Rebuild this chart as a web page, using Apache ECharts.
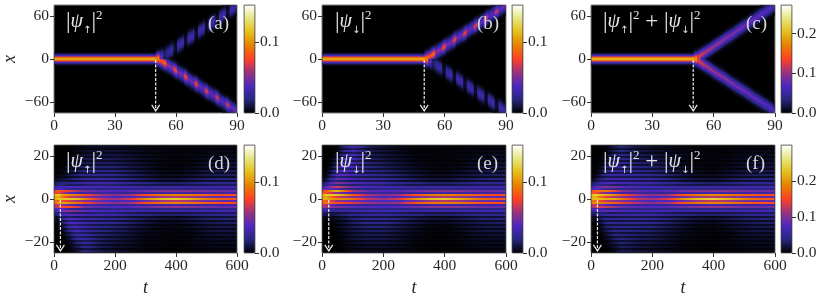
<!DOCTYPE html>
<html><head><meta charset="utf-8">
<style>html,body{margin:0;padding:0;background:#fff}#c{width:822px;height:298px}</style>
<script src="https://cdn.jsdelivr.net/npm/echarts@6/dist/echarts.min.js"></script>
</head><body><div id="c"></div>
<script>
// ---- tick labels ----
const topXTicks=[0,30,60,90], topYTicks=[-60,0,60], botXTicks=[0,200,400,600], botYTicks=[-20,0,20];
const panelLabels=['(a)','(b)','(c)','(d)','(e)','(f)'];
// colour-bar ranges
const vmaxes=[0.153,0.153,0.272,0.153,0.153,0.30];
const cbTicks=[[0,0.1],[0,0.1],[0,0.1,0.2],[0,0.1],[0,0.1],[0,0.1,0.2]];
// arrows: t, x of head
const arrowT=[50,50,50,21,22,21];
const arrowEnd=[-72,-72,-72,-24,-24,-24];
// ---- top row values (per mille) ----
const beamX=[10,8,6,4,2,0,-2,-4,-6,-8,-10];
const beamA=[0,6,22,50,90,115,90,50,22,6,0];
const beamB=[0,6,22,50,90,115,90,50,22,6,0];
const beamC=[0,12,40,90,165,212,165,90,40,12,0];
const beamEnd=50.3;
const armStart=[50.3,52.1,53.8,55.5,57.2,59,60.7,62.4,64.1,65.8,67.5,69.3,71,72.7,74.4,76.1,77.9,79.6,81.3,83,84.7,86.5,88.2,90];
// each row: centre x, then values at centre-10,-5,0,+5,+10
const upA=[[1,50,90,95,45,8],[4,30,40,45,25,6],[7,6,14,18,12,3],[10,8,20,26,16,4],[13,8,22,30,18,5],[17,2,5,7,4,1],[20,8,24,32,20,5],[23,8,24,34,20,5],[27,2,5,7,4,1],[30,8,24,34,20,5],[33,8,24,34,20,5],[36,2,5,7,4,1],[40,8,24,34,20,5],[43,8,24,34,20,5],[46,2,5,7,4,1],[50,8,24,34,20,5],[53,8,24,34,20,5],[56,2,5,7,4,1],[60,8,24,34,20,5],[63,8,24,34,20,5],[66,2,5,7,4,1],[69,8,24,34,20,5],[73,8,22,30,18,5]];
const downA=[[-1,8,45,95,90,50],[-3,12,50,85,50,10],[-6,14,52,90,52,12],[-9,10,35,55,34,8],[-12,10,35,55,34,8],[-16,14,48,80,46,12],[-19,9,32,50,30,8],[-22,9,32,50,30,8],[-25,14,47,78,45,12],[-29,9,30,48,29,7],[-32,9,30,48,29,7],[-35,13,46,76,44,11],[-38,9,29,46,28,7],[-42,9,29,46,28,7],[-45,13,44,74,42,11],[-48,8,28,44,27,7],[-51,8,28,44,27,7],[-54,12,42,70,40,10],[-58,8,27,42,26,6],[-61,8,27,42,26,6],[-64,12,40,68,38,10],[-67,8,27,42,26,6],[-71,9,30,50,28,6]];
const upB=[[1,50,90,95,45,8],[4,12,48,85,50,12],[7,12,52,92,54,14],[10,8,34,55,35,10],[13,8,34,55,35,10],[17,12,46,80,48,14],[20,8,30,50,32,9],[23,8,30,50,32,9],[27,12,45,78,47,14],[30,7,29,48,30,9],[33,7,29,48,30,9],[36,11,44,76,46,13],[40,7,28,46,29,9],[43,7,28,46,29,9],[46,11,42,74,44,13],[50,7,27,44,28,8],[53,7,27,44,28,8],[56,10,40,70,42,12],[60,6,26,42,27,8],[63,6,26,42,27,8],[66,10,38,68,40,12],[69,6,26,42,27,8],[73,6,28,50,30,9]];
const downB=[[-1,8,45,95,90,50],[-4,6,25,45,40,30],[-7,3,12,18,14,6],[-10,5,18,28,20,8],[-13,5,18,30,22,8],[-17,1,4,7,5,2],[-20,5,20,32,24,8],[-23,5,20,34,24,8],[-26,1,4,7,5,2],[-29,5,20,34,24,8],[-32,5,20,34,24,8],[-36,1,4,7,5,2],[-39,5,20,34,24,8],[-42,5,20,34,24,8],[-45,1,4,7,5,2],[-49,5,20,34,24,8],[-52,5,20,34,24,8],[-55,1,4,7,5,2],[-58,5,20,34,24,8],[-62,5,20,34,24,8],[-65,1,4,7,5,2],[-68,5,20,34,24,8],[-72,5,18,30,22,8]];
const upC=[[1,80,150,180,70,12],[4,40,110,130,70,14],[7,14,70,125,70,14],[10,14,65,115,65,14],[13,13,62,110,62,13],[17,13,60,106,60,13],[20,13,58,103,58,13],[23,12,57,101,57,12],[27,12,56,99,56,12],[30,12,55,97,55,12],[33,12,54,95,54,12],[36,12,53,93,53,12],[40,11,52,91,52,11],[43,11,51,89,51,11],[46,11,50,87,50,11],[50,11,49,85,49,11],[53,10,48,83,48,10],[56,10,47,81,47,10],[60,10,46,79,46,10],[63,10,45,77,45,10],[66,9,44,75,44,9],[69,9,43,73,43,9],[73,9,42,71,42,9]];
const downC=[[-1,12,70,180,150,80],[-4,14,70,130,110,40],[-7,14,70,125,70,14],[-10,14,65,115,65,14],[-13,13,62,110,62,13],[-17,13,60,106,60,13],[-20,13,58,103,58,13],[-23,12,57,101,57,12],[-26,12,56,99,56,12],[-29,12,55,97,55,12],[-33,12,54,95,54,12],[-36,12,53,93,53,12],[-39,11,52,91,52,11],[-42,11,51,89,51,11],[-45,11,50,87,50,11],[-48,11,49,85,49,11],[-52,10,48,83,48,10],[-55,10,47,81,47,10],[-58,10,46,79,46,10],[-61,10,45,77,45,10],[-64,9,44,75,44,9],[-67,9,43,73,43,9],[-71,9,42,71,42,9]];
// ---- bottom row values (per mille): one row per 0.926 of x, top to bottom ----
const timeNodes=[0,15,30,50,75,100,150,200,250,300,350,400,450,500,550,600];
const stripeStep=0.926;
const rowsD=[
[0,0,0,0,1,2,2,2,2,1,1,1,1,1,1,1],[0,0,0,0,2,4,5,5,4,3,2,2,2,3,3,3],[0,0,0,0,1,2,3,3,2,2,1,1,1,1,1,1],[0,0,0,1,3,6,8,8,6,4,3,2,2,3,4,4],
[0,0,0,0,2,3,4,4,3,2,1,1,1,2,2,2],[0,0,0,2,5,8,10,10,7,5,3,2,3,4,5,5],[0,0,0,1,2,4,5,5,4,2,1,1,1,2,2,2],[0,0,0,3,7,11,13,12,9,5,3,2,3,5,6,6],
[0,0,1,1,3,5,6,6,4,2,1,1,1,2,3,3],[0,0,1,4,9,13,15,14,10,6,3,2,3,6,8,8],[0,0,1,2,4,6,7,7,5,3,1,1,1,3,3,4],[0,0,2,6,12,16,18,17,12,7,3,2,4,8,10,10],
[0,1,2,3,5,7,9,8,5,3,1,1,2,3,4,4],[0,2,3,8,14,19,21,20,14,8,4,3,6,10,12,12],[0,1,2,4,6,9,10,9,6,3,2,1,2,4,5,5],[1,3,5,10,17,22,24,22,16,10,6,5,8,12,14,15],
[1,2,4,5,8,10,11,10,7,4,2,2,3,5,6,6],[3,6,8,14,20,25,27,25,19,13,10,9,12,16,18,18],[5,8,10,8,9,11,12,11,8,6,4,3,5,7,8,8],[12,18,18,22,26,30,32,30,24,20,17,16,18,22,24,24],
[14,18,18,13,13,15,17,16,13,11,10,10,11,12,13,13],[30,35,35,38,38,38,36,34,32,30,30,30,30,32,34,34],[34,36,32,24,20,20,20,20,20,20,20,20,20,20,20,20],[70,85,75,72,62,48,42,38,40,46,52,54,52,48,46,46],
[75,75,60,42,34,30,28,26,26,28,30,32,30,30,30,30],[110,120,105,100,92,80,60,52,58,80,92,96,92,85,80,80],[105,110,90,68,60,52,42,36,38,46,56,62,56,48,44,42],[105,118,118,118,115,100,65,58,70,100,115,120,110,95,86,82],
[90,90,80,68,60,52,42,36,38,46,58,64,58,48,44,42],[85,105,105,100,92,80,60,52,58,80,92,96,92,85,80,80],[64,64,55,42,34,30,28,26,26,28,30,32,30,30,30,30],[55,70,78,80,70,50,42,38,40,46,52,54,52,48,46,46],
[36,40,38,28,22,20,20,20,20,20,20,20,20,20,20,20],[25,38,50,55,50,42,36,34,32,30,30,30,30,32,34,34],[15,20,24,18,15,15,17,16,13,11,10,10,11,12,13,13],[10,20,35,42,40,34,32,30,24,20,17,16,18,22,24,24],
[4,8,14,14,12,12,12,11,8,6,4,3,5,7,8,8],[2,8,25,40,38,32,28,25,19,13,10,9,12,16,18,18],[1,3,10,16,14,12,11,10,7,4,2,2,3,5,6,6],[0,3,16,38,38,30,25,22,16,10,6,5,8,12,14,15],
[0,1,6,16,16,13,10,9,6,3,2,1,2,4,5,5],[0,1,9,30,38,30,22,18,13,7,4,3,6,10,12,12],[0,0,4,14,16,13,9,8,5,3,1,1,2,3,4,4],[0,0,5,22,36,30,20,15,10,5,3,2,4,8,10,10],
[0,0,2,10,16,13,8,7,5,2,1,1,1,3,3,4],[0,0,2,14,32,30,18,13,8,4,2,2,3,6,8,8],[0,0,1,6,14,13,7,6,4,2,1,1,1,2,3,3],[0,0,1,8,26,30,16,11,7,3,2,1,3,5,6,6],
[0,0,0,3,11,13,7,5,3,1,1,1,1,2,2,2],[0,0,0,4,18,28,15,10,6,3,2,1,2,4,5,5],[0,0,0,2,8,12,6,4,3,1,1,0,1,2,2,2],[0,0,0,2,12,24,13,8,5,2,1,1,2,3,4,4],
[0,0,0,1,5,10,5,3,2,1,0,0,1,1,1,1],[0,0,0,1,7,20,11,7,4,2,1,1,1,2,3,3],[0,0,0,0,3,8,4,2,1,1,0,0,0,1,1,1]];
const rowsE=[
[0,0,0,0,8,14,5,2,1,1,0,0,0,1,1,1],[0,0,0,3,20,32,13,7,4,2,1,1,1,2,3,3],[0,0,0,2,9,14,6,3,2,1,1,0,1,1,1,1],[0,0,0,4,24,34,14,8,5,2,1,1,2,3,4,4],
[0,0,0,3,10,14,6,4,3,1,1,1,1,2,2,2],[0,0,0,7,28,36,15,10,6,3,2,1,2,4,5,5],[0,0,1,4,12,14,7,5,3,1,1,1,1,2,2,2],[0,0,2,12,32,36,16,11,7,3,2,1,3,5,6,6],
[0,0,1,6,14,14,7,6,4,2,1,1,1,2,3,3],[0,0,3,18,36,36,18,13,8,4,2,2,3,6,8,8],[0,0,2,9,16,14,8,7,5,2,1,1,1,3,3,4],[0,1,6,26,40,34,20,15,10,5,3,2,4,8,10,10],
[0,1,4,13,17,14,9,8,5,3,1,1,2,3,4,4],[0,2,10,34,42,33,22,18,13,7,4,3,6,10,12,12],[0,2,6,16,17,13,10,9,6,3,2,1,2,4,5,5],[1,4,18,42,42,32,25,22,16,10,6,5,8,12,14,15],
[1,4,11,18,16,13,11,10,7,4,2,2,3,5,6,6],[3,10,28,45,42,34,28,25,19,13,10,9,12,16,18,18],[5,9,16,18,15,13,12,11,8,6,4,3,5,7,8,8],[12,22,40,52,46,38,32,30,24,20,17,16,18,22,24,24],
[15,22,26,22,17,16,17,16,13,11,10,10,11,12,13,13],[30,42,58,68,58,46,36,34,32,30,30,30,30,32,34,34],[36,42,42,34,24,20,20,20,20,20,20,20,20,20,20,20],[72,85,100,112,90,60,44,38,40,46,52,54,52,48,46,46],
[78,76,66,52,40,32,28,26,26,28,30,32,30,30,30,30],[110,120,118,118,105,84,60,52,58,80,92,96,92,85,80,80],[105,105,90,68,60,52,42,36,38,46,56,62,56,48,44,42],[105,110,105,100,100,90,65,58,70,100,115,120,110,95,86,82],
[90,85,72,56,50,44,40,36,38,46,58,64,58,48,44,42],[85,95,85,80,75,70,58,52,58,80,92,96,92,85,80,80],[64,60,42,32,28,28,26,26,26,28,30,32,30,30,30,30],[55,60,55,50,46,42,40,38,40,46,52,54,52,48,46,46],
[34,30,22,20,20,20,20,20,20,20,20,20,20,20,20,20],[25,28,28,28,28,30,32,32,32,30,30,30,30,32,34,34],[14,12,10,10,10,12,14,15,13,11,10,10,11,12,13,13],[10,10,10,14,18,22,26,28,24,20,17,16,18,22,24,24],
[4,3,3,4,6,8,10,10,8,6,4,3,5,7,8,8],[2,2,3,7,12,18,24,24,19,13,10,9,12,16,18,18],[1,1,1,2,4,7,9,9,7,4,2,2,3,5,6,6],[0,0,1,4,9,15,21,21,16,10,6,5,8,12,14,15],
[0,0,0,1,3,6,8,8,6,3,2,1,2,4,5,5],[0,0,0,3,8,13,18,18,13,7,3,2,5,10,12,12],[0,0,0,1,3,5,7,7,5,3,1,1,2,3,4,4],[0,0,0,2,6,11,15,15,10,5,2,1,4,8,10,10],
[0,0,0,1,2,4,6,6,4,2,1,1,1,3,3,4],[0,0,0,1,5,9,13,13,8,4,2,1,3,6,8,8],[0,0,0,0,2,4,5,5,3,2,1,0,1,2,3,3],[0,0,0,1,4,8,11,11,7,3,1,1,3,5,6,6],
[0,0,0,0,1,3,4,4,3,1,1,0,1,2,2,2],[0,0,0,0,3,6,9,9,6,3,1,1,2,4,5,5],[0,0,0,0,1,2,3,3,2,1,0,0,1,2,2,2],[0,0,0,0,2,5,7,7,5,2,1,1,2,3,4,4],
[0,0,0,0,1,2,2,2,2,1,0,0,1,1,1,1],[0,0,0,0,1,4,5,5,4,2,1,1,1,2,3,3],[0,0,0,0,0,1,2,2,1,1,0,0,0,1,1,1]];
const rowsF=[
[0,0,0,0,9,16,7,4,3,2,1,1,1,2,2,2],[0,0,0,3,22,36,18,12,8,5,3,3,3,5,6,6],[0,0,0,2,10,16,9,6,4,3,2,1,2,2,2,2],[0,0,0,5,27,40,22,16,11,6,4,3,4,6,8,8],
[0,0,0,3,12,17,10,8,6,3,2,2,2,4,4,4],[0,0,0,9,33,44,25,20,13,8,5,3,5,8,10,10],[0,0,1,5,14,18,12,10,7,3,2,2,2,4,4,4],[0,0,2,15,39,47,29,23,16,8,5,3,6,10,12,12],
[0,0,2,7,17,19,13,12,8,4,2,2,2,4,6,6],[0,0,4,22,45,49,33,27,18,10,5,4,6,12,16,16],[0,0,3,11,20,20,15,14,10,5,2,2,2,6,6,8],[0,1,8,32,52,50,38,32,22,12,6,4,8,16,20,20],
[0,2,6,16,22,21,18,16,10,6,2,2,4,6,8,8],[0,4,13,42,56,52,43,38,27,15,8,6,12,20,24,24],[0,3,8,20,23,22,20,18,12,6,4,2,4,8,10,10],[2,7,23,52,59,54,49,44,32,20,12,10,16,24,28,30],
[2,6,15,23,24,23,22,20,14,8,4,4,6,10,12,12],[6,16,36,59,62,59,55,50,38,26,20,18,24,32,36,36],[10,17,26,26,24,24,24,22,16,12,8,6,10,14,16,16],[24,40,58,74,72,68,64,60,48,40,34,32,36,44,48,48],
[29,40,44,36,30,30,33,31,26,22,20,20,22,24,26,26],[60,77,93,106,96,84,72,68,64,60,60,60,60,64,68,68],[70,78,74,58,44,40,40,40,40,40,40,40,40,40,40,40],[142,170,175,184,152,108,86,76,80,92,104,108,104,96,92,92],
[153,151,126,94,74,62,56,52,52,56,60,64,60,60,60,60],[220,240,223,218,197,164,120,104,116,160,184,192,184,170,160,160],[210,215,180,136,120,104,84,72,76,92,112,124,112,96,88,84],[210,228,223,218,215,190,130,116,140,200,230,240,220,190,172,164],
[180,175,152,124,110,96,82,72,76,92,116,128,116,96,88,84],[170,200,190,180,167,150,118,104,116,160,184,192,184,170,160,160],[128,124,97,74,62,58,54,52,52,56,60,64,60,60,60,60],[110,130,133,130,116,92,82,76,80,92,104,108,104,96,92,92],
[70,70,60,48,42,40,40,40,40,40,40,40,40,40,40,40],[50,66,78,83,78,72,68,66,64,60,60,60,60,64,68,68],[29,32,34,28,25,27,31,31,26,22,20,20,22,24,26,26],[20,30,45,56,58,56,58,58,48,40,34,32,36,44,48,48],
[8,11,17,18,18,20,22,21,16,12,8,6,10,14,16,16],[4,10,28,47,50,50,52,49,38,26,20,18,24,32,36,36],[2,4,11,18,18,19,20,19,14,8,4,4,6,10,12,12],[0,3,17,42,47,45,46,43,32,20,12,10,16,24,28,30],
[0,1,6,17,19,19,18,17,12,6,4,2,4,8,10,10],[0,1,9,33,46,43,40,36,26,14,7,5,11,20,24,24],[0,0,4,15,19,18,16,15,10,6,2,2,4,6,8,8],[0,0,5,24,42,41,35,30,20,10,5,3,8,16,20,20],
[0,0,2,11,18,17,14,13,9,4,2,2,2,6,6,8],[0,0,2,15,37,39,31,26,16,8,4,3,6,12,16,16],[0,0,1,6,16,17,12,11,7,4,2,1,2,4,6,6],[0,0,1,9,30,38,27,22,14,6,3,2,6,10,12,12],
[0,0,0,3,12,16,11,9,6,2,2,1,2,4,4,4],[0,0,0,4,21,34,24,19,12,6,3,2,4,8,10,10],[0,0,0,2,9,14,9,7,5,2,1,0,2,4,4,4],[0,0,0,2,14,29,20,15,10,4,2,2,4,6,8,8],
[0,0,0,1,6,12,7,5,4,2,0,0,2,2,2,2],[0,0,0,1,8,24,16,12,8,4,2,2,2,4,6,6],[0,0,0,0,3,9,6,4,2,2,0,0,0,2,2,2]];

// ---- colour map ----
const CMR=[[0,0,0],[.15,.15,.5],[.3,.15,.75],[.6,.2,.5],[1,.25,.15],[.9,.5,0],[.9,.75,.1],[.9,.9,.5],[1,1,1]];
function cmap(f){f=Math.max(0,Math.min(1,f))*(CMR.length-1);const i=Math.min(CMR.length-2,Math.floor(f)),u=f-i;
  const c=[0,1,2].map(k=>Math.round(255*(CMR[i][k]*(1-u)+CMR[i+1][k]*u)));return 'rgb('+c.join(',')+')';}
function stopsFrom(pos,vals,vmax){const s=[];for(let j=0;j<pos.length-1;j++){for(let q=0;q<4;q++){const u=q/4;
  s.push({offset:pos[j]+(pos[j+1]-pos[j])*u,color:cmap((vals[j]+(vals[j+1]-vals[j])*u)/1000/vmax)});}}
  s.push({offset:pos[pos.length-1],color:cmap(vals[vals.length-1]/1000/vmax)});return s;}

// ---- layout ----
const FONT='"Liberation Serif",serif', FRAME='#808080', TICK='#333', TXT='#262626';
const lefts=[53,322,591], barLefts=[244,512,781], tops=[5,145], W=184, H=108, BW=11, GAP=5;
const grid=[],xAxis=[],yAxis=[],series=[],graphic=[];
const minus=v=>v<0?'\u2212'+(-v):String(v);

function addAxes(col,row){
  const g=grid.length,isTop=row===0;
  grid.push({left:lefts[col],top:tops[row],width:W,height:H,show:true,backgroundColor:'#000',borderColor:FRAME,borderWidth:1});
  xAxis.push({gridIndex:g,type:'value',min:0,max:isTop?90:600,interval:isTop?30:200,
    axisLine:{show:false,onZero:false},splitLine:{show:false},axisTick:{length:4,lineStyle:{color:TICK,width:1}},
    axisLabel:{fontFamily:FONT,fontSize:15.5,color:TXT,margin:5,hideOverlap:false,showMinLabel:true,showMaxLabel:true},
    name:isTop?'':'t',nameLocation:'middle',nameGap:26,nameTextStyle:{fontFamily:FONT,fontStyle:'italic',fontSize:18,color:TXT}});
  const yt=isTop?topYTicks:botYTicks,ym=isTop?75:25;
  yAxis.push({gridIndex:g,type:'value',min:-ym,max:ym,
    axisLine:{show:false,onZero:false},splitLine:{show:false},
    axisTick:{length:4,lineStyle:{color:TICK,width:1},customValues:yt},
    axisLabel:{fontFamily:FONT,fontSize:15.5,color:TXT,margin:5,customValues:yt,formatter:minus},
    name:col===0?'x':'',nameLocation:'middle',nameGap:35,nameRotate:90,nameTextStyle:{fontFamily:FONT,fontStyle:'italic',fontSize:18,color:TXT}});
  return g;
}
function addBar(col,row,vmax,ticks){
  const g=grid.length;
  grid.push({left:barLefts[col],top:tops[row],width:BW,height:H,show:true,backgroundColor:'#000',borderColor:FRAME,borderWidth:1});
  xAxis.push({gridIndex:g,type:'value',min:0,max:1,show:false,axisLine:{onZero:false}});
  yAxis.push({gridIndex:g,type:'value',position:'right',min:0,max:vmax,
    axisLine:{show:false,onZero:false},splitLine:{show:false},
    axisTick:{length:4,lineStyle:{color:TICK,width:1},customValues:ticks},
    axisLabel:{fontFamily:FONT,fontSize:15.5,color:TXT,margin:5,customValues:ticks,formatter:v=>v.toFixed(1)}});
  series.push({type:'custom',xAxisIndex:g,yAxisIndex:g,silent:true,data:[[0,vmax]],renderItem:(p,api)=>{
    const a=api.coord([0,vmax]),b=api.coord([1,0]);
    const colorStops=CMR.map((_,i)=>({offset:1-i/(CMR.length-1),color:cmap(i/(CMR.length-1))}));
    return {type:'rect',shape:{x:a[0]+.5,y:a[1]+.5,width:b[0]-a[0]-1,height:b[1]-a[1]-1},
      style:{fill:{type:'linear',x:0,y:a[1],x2:0,y2:b[1],global:true,colorStops}}};
  }});
}
// vertical profile column for the beam of a top panel
function columnRect(api,t0,t1,xs,vals,vmax){
  const A=api.coord([t0,0])[0],B=api.coord([t1,0])[0];
  const ya=api.coord([0,xs[0]])[1],yb=api.coord([0,xs[xs.length-1]])[1];
  const pos=xs.map(x=>(api.coord([0,x])[1]-ya)/(yb-ya));
  const x0=Math.max(Math.round(A),api.coord([0,0])[0]+.5),x1=Math.round(B);
  return {type:'rect',shape:{x:x0,y:ya,width:x1-x0,height:yb-ya},
    style:{fill:{type:'linear',x:0,y:ya,x2:0,y2:yb,global:true,colorStops:stopsFrom(pos,vals,vmax)}}};
}
function armVals(row){return [0,row[5],row[4],row[3],row[2],row[1],0];}
// slanted segment of an arm: corners and gradient follow the arm's centre line;
// sign +1 = upper arm (kept above x=0), -1 = lower arm (kept below x=0)
function armSegment(api,arm,i,vmax,sign){
  const xc=arm[i][0],prev=i>0?arm[i-1][0]:xc,next=i<arm.length-1?arm[i+1][0]:xc+(xc-prev);
  const cl=(prev+xc)/2,cr=(xc+next)/2,H3=3*GAP;
  const P=(t,x)=>api.coord([t,x]);
  const T=P(0,75)[1]+.5,Bt=P(0,-75)[1]-.5,RR=P(90,0)[0]-.5,Z=P(0,0)[1];
  const clampY=v=>{v=Math.max(T,Math.min(Bt,v));return sign>0?Math.min(v,Z):Math.max(v,Z);};
  const t0=armStart[i],t1=armStart[i+1];
  const a=P(t0,cl+H3),b=P(t1,cr+H3),c=P(t1,cr-H3),d=P(t0,cl-H3);
  const lx=a[0]-.4,rx=Math.min(b[0]+.4,RR);
  const points=[[lx,clampY(a[1])],[rx,clampY(b[1])],[rx,clampY(c[1])],[lx,clampY(d[1])]];
  const pl=P(t0,cl),pr=P(t1,cr),dx=pr[0]-pl[0],dy=pr[1]-pl[1],len=Math.hypot(dx,dy);
  const cx=(pl[0]+pr[0])/2,cyy=(pl[1]+pr[1])/2,hp=Math.abs(P(0,H3)[1]-P(0,0)[1])*dx/len;
  const nx=-dy/len,ny=dx/len;
  return {type:'polygon',shape:{points},style:{fill:{type:'linear',x:cx-nx*hp,y:cyy-ny*hp,x2:cx+nx*hp,y2:cyy+ny*hp,global:true,
    colorStops:stopsFrom([0,1/6,2/6,3/6,4/6,5/6,1],armVals(arm[i]),vmax)}}};
}
function addTopPanel(col,beam,up,down,vmax){
  const g=addAxes(col,0);
  series.push({type:'custom',xAxisIndex:g,yAxisIndex:g,silent:true,data:armStart.map((t,i)=>[t,i]),
    renderItem:(p,api)=>{
      const i=p.dataIndex,kids=[];
      if(i===0)kids.push(columnRect(api,0,beamEnd,beamX,beam,vmax));
      if(i<up.length){kids.push(armSegment(api,up,i,vmax,1));kids.push(armSegment(api,down,i,vmax,-1));}
      return {type:'group',children:kids};
    }});
  return g;
}
function addBottomPanel(col,rows,vmax){
  const g=addAxes(col,1);
  const pos=timeNodes.map(t=>t/600);
  series.push({type:'custom',xAxisIndex:g,yAxisIndex:g,silent:true,
    data:rows.map((r,i)=>[0,(rows.length-1)/2*stripeStep-i*stripeStep]),
    renderItem:(p,api)=>{
      const xv=api.value(1);
      const a=api.coord([0,25])[1]+.5,b=api.coord([0,-25])[1]-.5;
      const L=api.coord([0,0])[0],R=api.coord([600,0])[0];
      const y0=Math.max(a,Math.round(api.coord([0,xv+stripeStep/2])[1])),y1=Math.min(b,Math.round(api.coord([0,xv-stripeStep/2])[1]));
      if(y1<=y0)return {type:'group',children:[]};
      return {type:'rect',shape:{x:L+.5,y:y0,width:R-L-1,height:y1-y0},
        style:{fill:{type:'linear',x:L,y:0,x2:R,y2:0,global:true,colorStops:stopsFrom(pos,rows[p.dataIndex],vmax)}}};
    }});
  return g;
}
function addArrow(g,t,end){
  series.push({type:'custom',xAxisIndex:g,yAxisIndex:g,silent:true,z:5,data:[[t,end]],renderItem:(p,api)=>{
    const s=api.coord([t,0]),e=api.coord([t,end]);
    const st={stroke:'#eeeeee',lineWidth:1.2,fill:null};
    return {type:'group',children:[
      {type:'line',shape:{x1:s[0],y1:s[1]+1,x2:e[0],y2:e[1]},style:Object.assign({lineDash:[3,1.5]},st)},
      {type:'polyline',shape:{points:[[e[0]-4,e[1]-6],[e[0],e[1]],[e[0]+4,e[1]-6]]},style:st}]};
  }});
}
const gA=addTopPanel(0,beamA,upA,downA,vmaxes[0]);addArrow(gA,arrowT[0],arrowEnd[0]);addBar(0,0,vmaxes[0],cbTicks[0]);
const gB=addTopPanel(1,beamB,upB,downB,vmaxes[1]);addArrow(gB,arrowT[1],arrowEnd[1]);addBar(1,0,vmaxes[1],cbTicks[1]);
const gC=addTopPanel(2,beamC,upC,downC,vmaxes[2]);addArrow(gC,arrowT[2],arrowEnd[2]);addBar(2,0,vmaxes[2],cbTicks[2]);
const gD=addBottomPanel(0,rowsD,vmaxes[3]);addArrow(gD,arrowT[3],arrowEnd[3]);addBar(0,1,vmaxes[3],cbTicks[3]);
const gE=addBottomPanel(1,rowsE,vmaxes[4]);addArrow(gE,arrowT[4],arrowEnd[4]);addBar(1,1,vmaxes[4],cbTicks[4]);
const gF=addBottomPanel(2,rowsF,vmaxes[5]);addArrow(gF,arrowT[5],arrowEnd[5]);addBar(2,1,vmaxes[5],cbTicks[5]);

// ---- text annotations ----
const rich={r:{fontFamily:FONT,fontSize:23,fill:'#e6e6e6',lineHeight:26},
  i:{fontFamily:FONT,fontStyle:'italic',fontSize:20,fill:'#e6e6e6',lineHeight:26},
  s:{fontFamily:'"DejaVu Sans",sans-serif',fontSize:10,fill:'#e6e6e6',lineHeight:26,verticalAlign:'bottom'},
  u:{fontFamily:FONT,fontSize:13,fill:'#e6e6e6',lineHeight:26,verticalAlign:'top'}};
const psiU='{r||}{i|\u03c8}{s|\u2191}{r||}{u|2}', psiD='{r||}{i|\u03c8}{s|\u2193}{r||}{u|2}';
const titles=[psiU,psiD,psiU+'{r| + }'+psiD];
const titleX=[66,335,603], labelX=[208,477,746];
[0,1].forEach(row=>[0,1,2].forEach(col=>{
  const y=tops[row];
  graphic.push({type:'text',silent:true,z:100,x:titleX[col],y:y+4,style:{text:titles[col],rich,fill:'#e6e6e6'}});
  graphic.push({type:'text',silent:true,z:100,x:labelX[col],y:y+10,style:{text:panelLabels[row*3+col],fontFamily:FONT,fontSize:19,fill:'#d8d8d8'}});
}));

const chart=echarts.init(document.getElementById('c'),null,{renderer:'canvas'});
chart.setOption({animation:false,backgroundColor:'#fff',grid,xAxis,yAxis,series,graphic,tooltip:{show:false}});
</script></body></html>
